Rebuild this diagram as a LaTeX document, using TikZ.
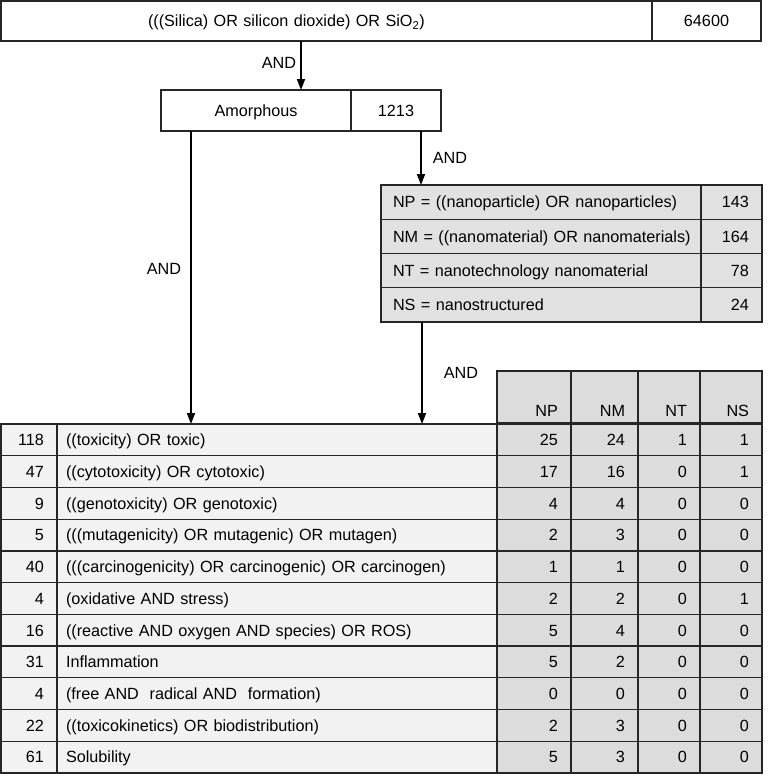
\documentclass[tikz,border=0pt]{standalone}
\usepackage{fontspec}
\setmainfont{Liberation Sans}
\usetikzlibrary{arrows.meta}

\definecolor{linec}{HTML}{262626}
\definecolor{rowc}{HTML}{F2F2F2}
\definecolor{valc}{HTML}{DCDCDC}
\definecolor{nanoc}{HTML}{E1E1E1}

\begin{document}
\begin{tikzpicture}[x=1pt, y=-1pt,
		every node/.style = {font=\fontsize{16.2pt}{19pt}\selectfont},
		box/.style = {draw=linec, line width=1.3pt, outer sep=0pt, inner ysep=0pt, anchor=north west, text height=13pt, text depth=1.3pt},
		lcell/.style = {box, align=left},
		rcell/.style = {box, align=right, inner xsep=13pt},
		arr/.style = {-{Triangle[length=11pt, width=8pt]}, line width=1.8pt},
		andlabel/.style = {midway, inner sep=0pt}]
	\useasboundingbox (0,0) rectangle (769,780);

	\node[lcell, inner xsep=147pt, text width=357pt, minimum height=40pt] (silica) at (1,1) {(((Silica) OR silicon dioxide) OR SiO\textsubscript{2})};
	\node[box, minimum width=109pt, minimum height=40pt] (silcount) at (652,1) {64600};

	\node[box, minimum width=190pt, minimum height=41pt] (amor) at (161,90) {Amorphous};
	\node[box, minimum width=90pt, minimum height=41pt] (amorn) at (351,90) {1213};
	\coordinate (amortop) at (301,90);

	\foreach \t/\v [count=\i] in {{NP = ((nanoparticle) OR nanoparticles)}/143, {NM = ((nanomaterial) OR nanomaterials)}/164, {NT = nanotechnology nanomaterial}/78, {NS = nanostructured}/24}
	{
		\pgfmathsetmacro\ny{185+34.25*(\i-1)}
		\node[lcell, fill=nanoc, inner xsep=12pt, text width=296pt, minimum height=34.25pt] (nano\i) at (381,\ny) {\mbox{\t}};
		\node[rcell, fill=nanoc, text width=35pt, minimum height=34.25pt] (nanon\i) at (701,\ny) {\v};
	}

	\foreach \h/\x/\w in {NP/497/48, NM/571/41, NT/638/36, NS/700/36}
		\node[rcell, fill=valc, text width=\w pt, minimum height=52pt, text height=40pt, text depth=2pt] (head\h) at (\x,371) {\h};

	\foreach \n/\q/\a/\b/\c/\d [count=\i from 0] in {
			118/{((toxicity) OR toxic)}/25/24/1/1,
			47/{((cytotoxicity) OR cytotoxic)}/17/16/0/1,
			9/{((genotoxicity) OR genotoxic)}/4/4/0/0,
			5/{(((mutagenicity) OR mutagenic) OR mutagen)}/2/3/0/0,
			40/{(((carcinogenicity) OR carcinogenic) OR carcinogen)}/1/1/0/0,
			4/{(oxidative AND stress)}/2/2/0/1,
			16/{((reactive AND oxygen AND species) OR ROS)}/5/4/0/0,
			31/{Inflammation}/5/2/0/0,
			4/{(free AND~ radical AND~ formation)}/0/0/0/0,
			22/{((toxicokinetics) OR biodistribution)}/2/3/0/0,
			61/{Solubility}/5/3/0/0}
	{
		\pgfmathsetmacro\ry{424+31.727*\i}
		\node[rcell, fill=rowc, text width=30pt, minimum height=31.727pt] (num\i) at (1,\ry) {\n};
		\node[lcell, fill=rowc, inner xsep=9pt, text width=422pt, minimum height=31.727pt] (qry\i) at (57,\ry) {\q};
		\node[rcell, fill=valc, text width=48pt, minimum height=31.727pt] (np\i) at (497,\ry) {\a};
		\node[rcell, fill=valc, text width=41pt, minimum height=31.727pt] (nm\i) at (571,\ry) {\b};
		\node[rcell, fill=valc, text width=36pt, minimum height=31.727pt] (nt\i) at (638,\ry) {\c};
		\node[rcell, fill=valc, text width=36pt, minimum height=31.727pt] (ns\i) at (700,\ry) {\d};
	}

	\draw[arr] (silica.south -| amortop) -- (amortop) node[andlabel, left=4pt, yshift=3pt] (andtop) {AND};
	\draw[arr] ([xshift=30pt]amor.south west) coordinate (leftfrom) -- (leftfrom |- qry0.north) node[andlabel, left=9pt, pos=0.47] (andleft) {AND};
	\draw[arr] ([xshift=-20pt]amorn.south east) coordinate (nanofrom) -- (nanofrom |- nano1.north) node[andlabel, right=11pt] (andnano) {AND};
	\draw[arr] ([xshift=41pt]nano4.south west) coordinate (tablefrom) -- (tablefrom |- qry0.north) node[andlabel, right=21pt] (andtable) {AND};
\end{tikzpicture}
\end{document}
